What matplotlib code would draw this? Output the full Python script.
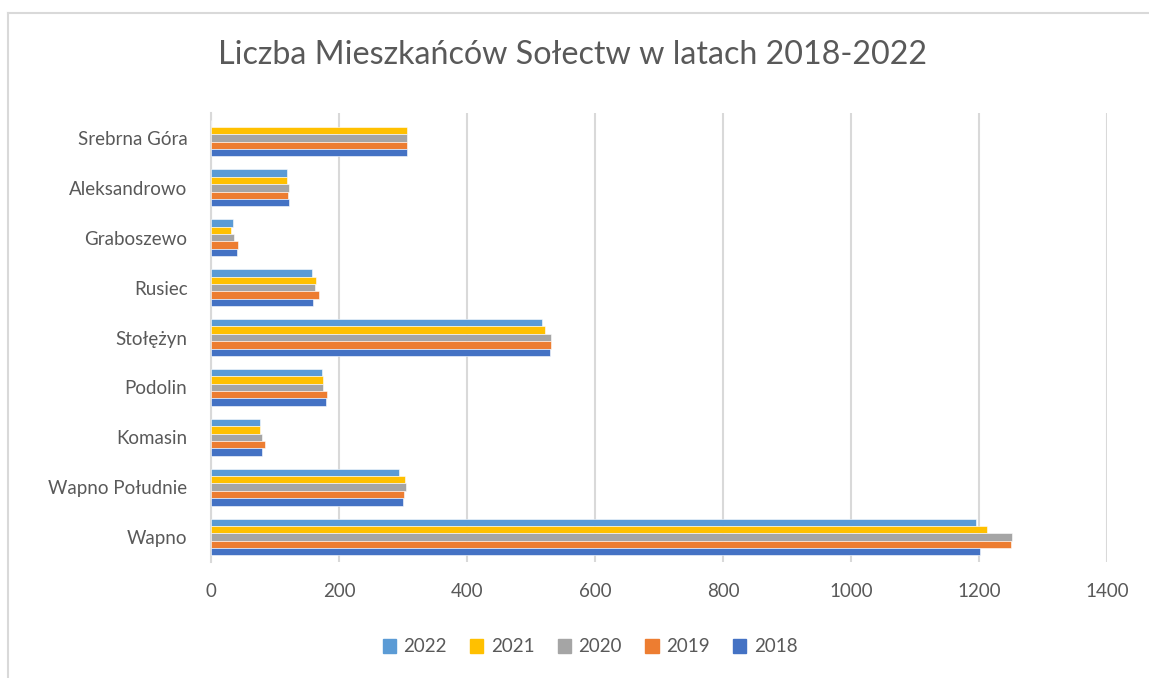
import matplotlib
matplotlib.use("Agg")
import matplotlib.pyplot as plt
import numpy as np
from matplotlib.lines import Line2D

categories = ["Wapno", "Wapno Południe", "Komasin", "Podolin", "Stołężyn",
              "Rusiec", "Graboszewo", "Aleksandrowo", "Srebrna Góra"]
years = ["2022", "2021", "2020", "2019", "2018"]
v2022 = [1195, 293, 76, 173, 517, 158, 34, 118, 0]
v2021 = [1213, 303, 76, 175, 522, 164, 32, 118, 306]
v2020 = [1252, 305, 79, 175, 531, 162, 36, 122, 306]
v2019 = [1250, 302, 84, 182, 531, 168, 42, 120, 306]
v2018 = [1201, 300, 80, 180, 530, 160, 40, 122, 306]
series = [v2022, v2021, v2020, v2019, v2018]
colors = ["#5B9BD5", "#FFC000", "#A5A5A5", "#ED7D31", "#4472C4"]

plt.rcParams['font.family'] = ['Lato', 'DejaVu Sans']
W, H = 1149, 678
fig = plt.figure(figsize=(W/100, H/100), dpi=100)
ax = fig.add_axes([211/W, 1-562/H, (1107-211)/W, (562-113)/H])

n = len(categories)
y = np.arange(n)
bh = 0.147
for i, (vals, c, lab) in enumerate(zip(series, colors, years)):
    off = (2 - i) * bh
    ax.barh(y + off, vals, height=bh, color=c, edgecolor='white', linewidth=0.4, label=lab, zorder=3)

ax.set_xlim(0, 1400)
ax.set_ylim(-0.5, n - 0.5)
ax.set_xticks(np.arange(0, 1401, 200))
ax.set_yticks(y)
ax.set_yticklabels(categories)
ax.tick_params(axis='both', length=0, labelsize=13.5, colors='#595959')
ax.tick_params(axis='x', pad=15)
ax.tick_params(axis='y', pad=17)
ax.grid(axis='x', color='#D9D9D9', linewidth=1.5, zorder=0)
for s in ['top', 'right', 'bottom']:
    ax.spines[s].set_visible(False)
ax.spines['left'].set_color('#D9D9D9')
ax.spines['left'].set_linewidth(1.5)

fig.text(573/W, 1-55/H, "Liczba Mieszkańców Sołectw w latach 2018-2022",
         ha='center', va='center', fontsize=23.2, color='#595959')

handles = [plt.Rectangle((0, 0), 1, 1, color=c) for c in colors]
fig.legend(handles, years, loc='center', bbox_to_anchor=(590/W, 1-647/H), ncol=5,
           frameon=False, fontsize=13.5, labelcolor='#595959', handlelength=0.7,
           handleheight=0.7, handletextpad=0.4, columnspacing=1.25)

# chart border (top and left visible)
fig.add_artist(Line2D([8/W, 8/W], [0, 1-13/H], color='#D9D9D9', linewidth=1.5, transform=fig.transFigure))
fig.add_artist(Line2D([8/W, 1], [1-13/H, 1-13/H], color='#D9D9D9', linewidth=1.5, transform=fig.transFigure))

fig.savefig("out.png", dpi=100, facecolor='white')
